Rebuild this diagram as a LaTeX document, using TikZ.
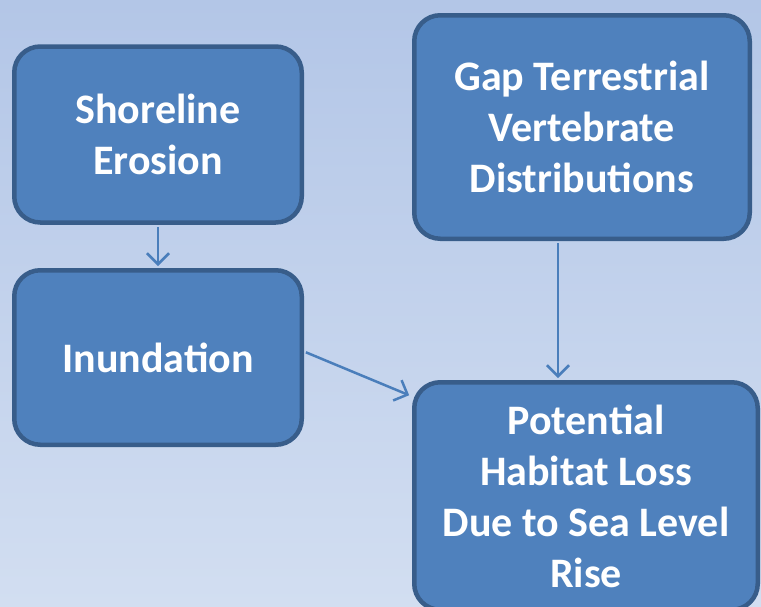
\documentclass[tikz,border=0pt]{standalone}
\usepackage{fontspec}
\setmainfont{Carlito}
\usetikzlibrary{arrows.meta}
\definecolor{bgtop}{RGB}{179,198,231}
\definecolor{bgbot}{RGB}{210,222,241}
\definecolor{boxfill}{RGB}{79,129,189}
\definecolor{boxline}{RGB}{56,93,138}
\definecolor{linkcol}{RGB}{74,126,187}
\tikzset{
  stepbox/.style={draw=boxline, fill=boxfill, line width=4.5pt, rounded corners=26pt,
    text=white, align=center, inner sep=0pt,
    font=\fontsize{42}{51}\selectfont\bfseries},
  link/.style={draw=linkcol, line width=2.5pt,
    -{Straight Barb[length=11pt,width=22pt,line width=2.5pt]},
    shorten <=2pt, shorten >=2pt}
}
\begin{document}
\begin{tikzpicture}[x=1pt,y=1pt]
  \useasboundingbox (0,0) rectangle (761,-606);
  \shade[top color=bgtop, bottom color=bgbot] (0,0) rectangle (761,-606);

  \node[stepbox, minimum width=287.5pt, minimum height=176pt] (shore) at (158,-134.5)
    {Shoreline\\Erosion};
  \node[stepbox, minimum width=287.5pt, minimum height=174.5pt] (inund) at (158,-357.5)
    {Inundation};
  \node[stepbox, minimum width=335.5pt, minimum height=223.5pt] (gap) at (582,-127)
    {Gap Terrestrial\\Vertebrate\\Distributions};
  \node[stepbox, minimum width=343.5pt, minimum height=227.5pt] (pot) at (586,-496)
    {Potential\\Habitat Loss\\Due to Sea Level\\Rise};

  \draw[link] (shore.south) -- (inund.north);
  \draw[link] ([xshift=-24pt]gap.south) -- ([xshift=-24pt]gap.south |- pot.north);
  \draw[link] ([yshift=6pt]inund.east) -- ([xshift=-1pt,yshift=-16pt]pot.north west);
\end{tikzpicture}
\end{document}
